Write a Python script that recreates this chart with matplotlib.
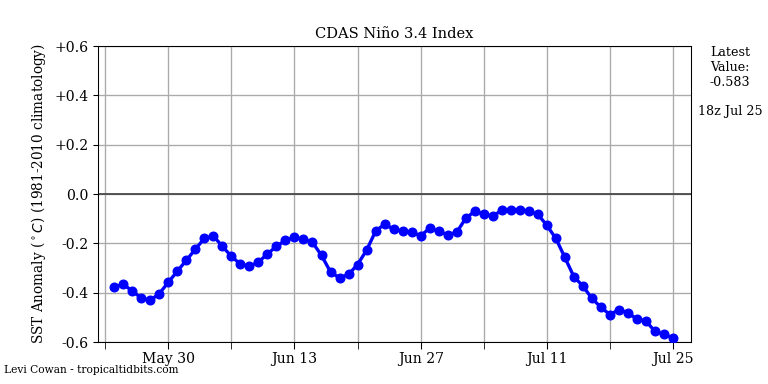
import matplotlib
matplotlib.use("Agg")
import matplotlib.pyplot as plt
import matplotlib.dates as mdates
import numpy as np
import datetime as dt

start_date = "2024-05-24"
values = [
    -0.378, -0.366, -0.393, -0.422, -0.431, -0.404, -0.358, -0.313, -0.269, -0.224,
    -0.180, -0.170, -0.212, -0.253, -0.284, -0.293, -0.276, -0.243, -0.212, -0.188,
    -0.176, -0.184, -0.196, -0.249, -0.316, -0.340, -0.326, -0.286, -0.228, -0.151,
    -0.122, -0.143, -0.150, -0.155, -0.169, -0.139, -0.151, -0.166, -0.155, -0.099,
    -0.070, -0.081, -0.090, -0.066, -0.066, -0.066, -0.070, -0.082, -0.127, -0.180,
    -0.257, -0.335, -0.373, -0.423, -0.459, -0.489, -0.469, -0.482, -0.507, -0.515,
    -0.557, -0.569, -0.583,
]
major_ticks = ["2024-05-30", "2024-06-13", "2024-06-27", "2024-07-11", "2024-07-25"]
y_ticks = [-0.6, -0.4, -0.2, 0.0, 0.2, 0.4, 0.6]
y_labels = ["-0.6", "-0.4", "-0.2", "0.0", "+0.2", "+0.4", "+0.6"]

d0 = dt.datetime.fromisoformat(start_date)
dates = [d0 + dt.timedelta(days=i) for i in range(len(values))]

plt.rcParams["font.family"] = ["DejaVu Serif"]
fig = plt.figure(figsize=(8, 4), dpi=96)
ax = fig.add_axes([98/768, 42/384, (691-98)/768, (342-46)/384])

ax.plot(dates, values, color="blue", lw=2.5, marker="o", ms=6.5, zorder=3)
ax.axhline(0, color="#444444", lw=1.3, zorder=2)

majors = [dt.datetime.fromisoformat(s) for s in major_ticks]
minors = [m - dt.timedelta(days=7) for m in majors]
ax.set_xticks(majors)
ax.set_xticks(minors, minor=True)
ax.set_xticklabels([m.strftime("%b %d") for m in majors], fontsize=10.5)
ax.tick_params(axis="x", which="both", length=5, pad=2.5)
ax.grid(True, which="both", axis="x", color="#aaaaaa", lw=1)
ax.grid(True, which="major", axis="y", color="#aaaaaa", lw=1)
ax.set_axisbelow(True)

ax.set_ylim(-0.6, 0.6)
ax.set_yticks(y_ticks)
ax.set_yticklabels(y_labels, fontsize=10.5)
ax.set_xlim(dt.datetime.fromisoformat("2024-05-23") - dt.timedelta(days=0.8),
            dt.datetime.fromisoformat("2024-07-25") + dt.timedelta(days=2))

ax.set_ylabel(r"SST Anomaly ($^\circ C$) (1981-2010 climatology)", fontsize=10.2, labelpad=5)
ax.set_title("CDAS Niño 3.4 Index", fontsize=11)

fig.text(730/768, 1 - 46/384, "Latest\nValue:\n-0.583", ha="center", va="top", fontsize=9.5)
fig.text(730/768, 1 - 111/384, "18z Jul 25", ha="center", va="center", fontsize=9.5)
fig.text(4/768, 1 - 370/384, "Levi Cowan - tropicaltidbits.com", ha="left", va="center", fontsize=8)

fig.savefig("out.png", dpi=96)
